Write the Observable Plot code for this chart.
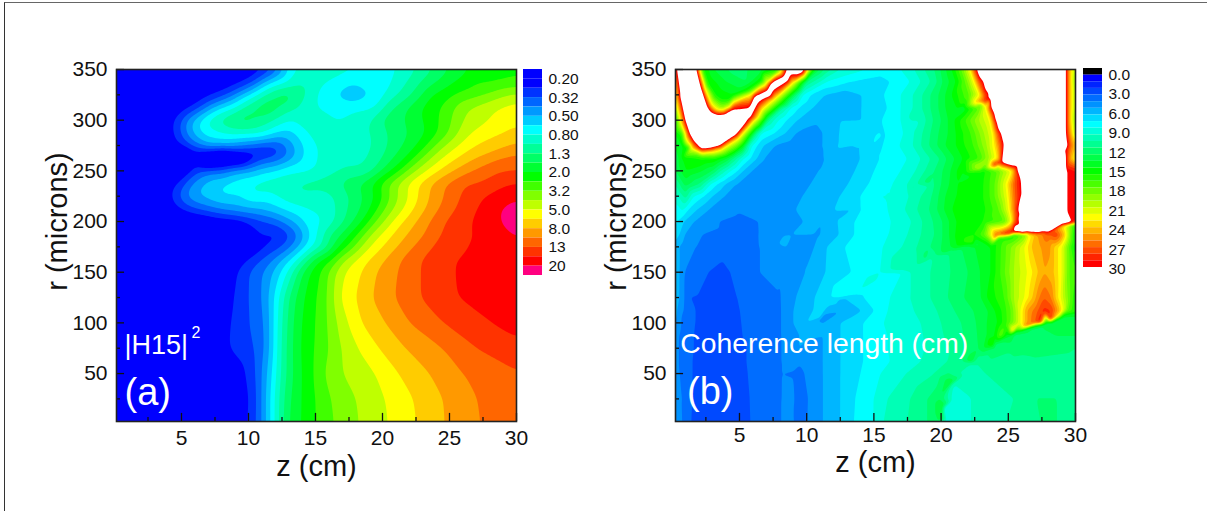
<!DOCTYPE html>
<html><head><meta charset="utf-8">
<script src="https://cdn.jsdelivr.net/npm/d3@7"></script>
<script src="https://cdn.jsdelivr.net/npm/@observablehq/plot@0.6"></script>
<style>
html,body{margin:0;background:#fff}
#page{position:relative;width:1207px;height:511px;overflow:hidden;font-family:"Liberation Sans",Arial,sans-serif}
#page svg{position:absolute;background:transparent;overflow:visible}
#edge{position:absolute;left:4px;top:2px;right:-5px;bottom:-5px;border-left:1px solid #333;border-top:1px solid #666}
</style></head><body><div id="page"><div id="edge"></div></div>
<script>
// Panel (a): |H15|^2, as steps above the 0.20 level of the colour key
const rowsA=[350,337,325,312,300,287,275,268,262,256,250,237,225,212,200,187,175,162,150,125,100,75,50,25,3];
const h15A=[
[0.15,-1,11,.5,11.6,1,12.4,3,12.9,5,13.6,6,16,6.7,18.6,6,20,5.5,21.1,6,22.6,7,23.8,8,25,9,26.5,10,30,10.7],
[0.15,-1,9.3,.5,9.8,1,10.3,2,10.7,3,11.1,4,11.6,5,12.9,6,13.5,7,14.7,7,15.5,6,17.8,5,20.7,6,21.8,7,22.8,8,24,9,25.3,10,28.3,11,30,11.3],
[0.15,-1,7,.5,7.7,1,8.3,2,8.9,3,9.4,4,9.9,5,10.6,6,11.1,7,11.9,8,12.7,9,13.5,8,14.4,7,15,6,16.3,5,17.8,4.2,19.3,5,20.1,6,21.2,7,22.2,8,23,9,23.6,10,25.3,11,27.8,12,29.3,13,30,13.3],
[0.15,-1,5.4,.5,5.9,1,6.3,2,6.8,3,7.3,4,7.9,5,8.9,6,9.5,7,10.3,8,11.5,9,12.4,8,13.5,7,14.9,6,15.4,5.9,17,5.6,18.5,5.7,19.6,6,20.1,7,20.7,8,21.8,9,22.8,10,24.3,11,25.3,12,26.3,13,28.3,14,30,14.5],
[0.15,-1,4,.5,4.55,1,4.9,2,5.25,3,5.7,4,6.2,5,6.8,6,7.4,7,8.5,8.1,9.5,8.8,10.5,8,11.9,7,15,6.5,19.2,7,19.7,8,21.6,9,23,10,24.2,11,25.2,12,26,13,28,14,30,14.7],
[0.15,-1,4.1,.5,4.55,1,4.9,2,5.3,3,5.8,4,6.3,5,7.9,6,9,6.4,11,6.3,11.4,6,11.9,5,12.7,4.6,13.5,5,14.3,6,15.4,6.5,19.5,7,20.3,8,22,9,23.3,10,24.2,11,25,12,25.6,13,26.6,14,29,15,30,15.4],
[0.15,-1,4.6,.5,5.05,1,5.55,2,6.4,3,7,4,8,4,9,3.5,10,2.8,11,2,11.6,1.9,12.3,2,12.8,3,13.4,4,14.1,5,15,6,17,6.7,19.6,7,20.3,8,21.6,9,22.6,10,23.3,11,24,12,24.6,13,25.6,14,27,15,29.6,16,30,16.2],
[0.15,-1,5,-1.5,5.9,.5,7,1.1,9,1,10.5,.6,11,.2,11.4,.5,12,1.2,12.4,2,13,3,13.5,4,14.1,5,15,6,17,6.6,19.4,7,20.1,8,21.2,9,22.1,10,22.8,11,23.4,12,24,13,25,14,26.2,15,28.2,16,30,16.8],
[0.15,-1,5,-2,7,-3.5,8,-4.5,9,-3.5,10,-1,10.5,1,12.1,2,12.9,3,13.5,4,14.1,5,14.9,6,17,6.6,19.2,7,19.9,8,20.8,9,21.7,10,22.3,11,22.9,12,23.5,13,24.4,14,25.5,15,26.9,16,28.5,17,30,17.4],
[0.15,-1,5,-2,7,-1,7.9,.8,8.9,2,10.6,3,12.1,4,12.9,5,14.9,6,17,6.7,18.8,7,19.6,8,20.4,9,21.2,10,21.8,11,22.3,12,23,13,23.9,14,24.8,15,26.1,16,27.5,17,30,17.7],
[0.15,-1,5.3,.5,5.8,1,6.4,2,7.2,3,9.6,4,11.6,5,14.9,6,18.4,7,19.4,8,20,9,20.7,10,21.3,11,21.8,12,22.5,13,23.3,14,24.2,15,25.3,16,26.6,17,30,18],
[0.15,-1,4.2,.5,4.7,1,5.2,2,5.7,3,6.4,4,7.8,5,9.8,6,12,6.8,13,7,15,7.5,16.7,8,18.1,9,19.1,10,19.7,11,20.3,12,21,13,21.7,14,22.6,15,23.5,16,24.6,17,26.1,18,29.3,19,30,19.2],
[0.15,-1,3.9,.5,4.3,1,4.7,2,5.2,3,6,4,7.7,5,10.3,6,13,6.7,15.4,6.4,16.4,7,17.6,8,18.6,9,19.5,10,20.1,11,20.6,12,21.2,13,22,14,22.7,15,23.5,16,24.6,17,25.8,18,27.6,19,30,19.5],
[0.15,-1,4.6,.5,5,1,6.2,2,7.7,3,9,3.6,10.6,4,12.4,5,14.4,6,15,6.2,15.6,6,16.5,7,17.4,8,18.4,9,19.1,10,19.6,11,20.2,12,20.8,13,21.6,14,22.3,15,23.2,16,24.2,17,25.4,18,27,19,28.9,20,30,21],
[0.15,-1,5,-1,7.5,-.1,9.4,.5,9.9,1,11.6,2,12.5,3,13.3,4,14,5,14.9,5.7,15.7,6,16.5,7,17.2,8,17.9,9,18.5,10,19,11,19.5,12,20.1,13,20.7,14,21.5,15,22.5,16,23.5,17,24.6,18,26.6,19,28.9,20,30,21],
[0.15,-1,5,-2,9,-1.5,12,.5,12.5,1,13.3,2,13.8,3,14.2,4,14.6,5,15.1,6,15.5,7,16,8,16.9,9,17.5,10,18.1,11,18.6,12,19.1,13,19.8,14,20.7,15,21.8,16,23.1,17,24.3,18,27,19,30,20],
[0.15,-1,5,-2,9,-1,10.9,.5,11.4,1,12.6,2,13.2,3,13.8,4,14.3,5,14.9,6,15.6,7,16,8,16.4,9,16.7,10,17.4,11,17.9,12,18.4,13,19,14,20,15,21.1,16,22.3,17,23.7,18,26.3,19,30,19.8],
[0.15,-1,5,-1,8,-.5,9.4,.5,9.9,1,10.9,2,11.8,3,12.4,4,13.1,5,13.6,6,14,7,14.4,8,14.8,9,15.1,10,16.1,11,16.6,12,17.1,13,17.9,14,18.9,15,20.1,16,21.3,17,22.8,18,25.1,19,30,19.8],
[0.15,-1,8.7,.5,9.15,1,10,2,11.1,3,11.8,4,12.4,5,12.9,6,13.3,7,13.6,8,14,9,14.5,10,15.4,11,15.9,12,16.5,13,17.1,14,18.4,15,19.5,16,21.1,17,22.8,18,25.3,19,30,19.8],
[0.15,-1,8.4,.5,8.9,1,10,2,11.1,3,11.5,4,11.9,5,12.3,6,12.6,7,13,8,13.5,9,14.1,10,15.1,11,15.9,12,16.4,13,16.7,14,18,15,19.2,16,20.9,17,22.8,18,25.5,19,30,19.6],
[0.15,-1,8.1,.5,8.65,1,10.1,2,11.3,3,11.6,4,11.9,5,12.1,6,12.5,7,12.9,8,13.3,9,13.9,10,15,11,15.9,12,16.6,13,17.4,14,18.4,15,20.2,16,22,17,24.5,18,28,19,30,19.4],
[0.15,-1,8,.5,8.5,1,10.5,2,11.3,3,11.6,4,11.9,5,12.1,6,12.4,7,12.8,8,13.3,9,13.8,10,14.9,11,16,12,16.9,13,18.2,14,19.7,15,21.7,16,24.5,17,27,18,30,18.7],
[0.15,-1,9.4,.5,9.8,1,10.6,2,11,3,11.4,4,11.8,5,12,6,12.4,7,12.8,8,13.3,9,13.9,10,14.9,11,15.6,12,17,13,19.5,14,21.2,15,23.5,16,26,17,30,17.9],
[0.15,-1,9.7,.5,10.1,1,10.65,2,11,3,11.3,4,11.6,5,11.95,6,12.3,7,12.6,8,13.1,9,13.9,10,15,11,16.1,12,18,13,20.2,14,22.3,15,24.5,16,27,17,30,17.7],
[0.15,-1,9.6,.5,10,1,10.65,2,11,3,11.3,4,11.64,5,11.94,6,12.25,7,12.6,8,12.9,9,13.9,10,15,11,16.3,12,18.2,13,20.4,14,22.5,15,24.6,16,27.2,17,30,17.5]
];
// Panel (b): coherence length in cm; 34 stands for values above the top of the key (white)
const rowsB=[350,338,325,312,300,287,275,262,250,237,225,212,200,187,175,150,125,112,100,87,75,62,50,25,3];
const cohB=[
[.24,26,3.1,14,4.6,12.5,6.6,13.5,10.8,13.5,11.3,12,12.5,10,15.5,8.5,17,9,18,10,19.5,12,20.8,15,21.5,18,22.1,22,22.45,27,29.6,24,30,20],
[.24,25,4,14,5.5,13,10,12,11.5,9,13.3,8,15.5,7.6,16.2,8,17.7,9,18.5,10,19.2,11,19.7,12,20.1,13,20.6,14,21.1,15,21.8,18,22.4,22,22.8,27,29.6,24,30,19],
[.24,23,4.5,15,9.2,12,9.7,9,10.3,8,11.3,7,12.6,6.5,14.1,7,15.75,8,17,9,17.9,10,18.6,11,19.2,12,19.8,13,20.3,14,20.8,15,22.1,18,22.8,22,23.2,27,29.6,24,30,20],
[.24,20,3.7,20,8.2,11,8.8,9,9.4,8,10.4,7,12,6.5,14.1,7,16,8,17,9,17.9,10,18.6,11,19.2,12,19.8,13,20.3,14,21.2,15,22.8,18,23.3,22,23.6,27,29.6,24,30,20],
[.24,16,7.2,11,7.9,9,8.5,8,9.3,7,11,6.2,14.1,7,15.6,8,17,9,17.9,10,18.6,10.5,19.4,12,20,13,20.5,14,21,15,21.8,17,22.8,20,23.6,22,23.9,27,29.6,24,30,19],
[.24,15,6.3,11,6.6,9,7.6,8,8.4,7,9.2,6,10,5.5,11.2,6,14,7,15.4,8,17.2,9,18,10,18.6,11,19.2,12,19.8,13,20.5,14,21.1,15,22.2,17,23.2,20,23.8,22,24.2,27,29.7,24,30,20],
[.24,14,.8,15,5.5,12,5.8,9.5,6.3,8,6.8,7,7.6,6,9,5.4,11.2,6,13.4,7,14.8,8,16.9,9,17.9,10,18.5,11,19.1,12,19.7,13,20.3,14,21.1,15,22.4,17,23.4,20,24,23,24.4,27,29.7,26,30,24],
[.24,13,.7,15,2.2,15.8,3.2,15.8,4,14,4.5,12,5.3,9,5.8,8,6.3,7,6.8,6,8,5.5,11.2,6,14,7,15.4,8,17.5,9,18.5,10,19.2,11,19.9,12,20.4,13,21,14,21.6,15,22.8,17,23.6,20,24.2,23,24.4,27,29.6,25,30,22],
[.24,13,1,15,3,13,3.6,11,4.35,9,4.85,8,5.3,7,5.8,6,9,5.5,10.9,6,13.6,7,15,8,17,9,18.1,10,18.8,11,19.5,12,20.1,13,20.7,14,21.2,15,23,16,24.2,18,25.2,22,25.55,27,30,29],
[.24,11,1,13.5,2,12,2.85,9,3.35,8,3.95,7,4.7,6,8,5.5,10.3,6,13.1,7,14.6,8,16.4,9,17.5,10,18.2,11,19.2,11.8,19.5,12,20,13,20.6,14,21.2,15,23.2,16,24,18,24.8,22,25.45,27,30,29],
[.24,9.5,1,11.5,1.6,9,2.35,8,3,7,3.85,6,8,5.5,9.7,6,12.5,7,14,8,15.2,9,16.5,9,17.6,10,18.5,11,19.3,12,19.8,13,20.3,14,21.1,15,23.2,16,24,18,24.9,22,25.5,27,30,29],
[.24,8.5,.8,9.2,1.2,8,1.86,7,2.7,6,8,5.5,9.2,6,12.1,7,14,8,16,9,17.3,10,18.2,11,19.1,12,19.7,13,20.2,14,20.8,15,21.4,15.5,23.4,16,24.3,18,25,22,25.5,27,30,29],
[.24,8.5,.37,8,.87,7,1.6,6,3,5.4,3.5,5,5,4.7,6.4,5,8,5.5,9.8,6,12.3,7,13.3,8,16.5,9,17.8,10,18.6,11,19.4,12,20.1,13,20.6,14,21.1,15,23.2,16,24.7,18,25.2,22,25.5,27,30,29],
[.24,7.5,.55,7,.9,6,2.2,5,4,4.6,6.45,5,8.9,6,12.4,7,13.5,8,16.1,9,17.5,10,18.5,11,19.5,12,20.1,13,20.6,14,21,15,22.5,16,23.2,18,23.7,22,24.2,27,25.4,15.5,26,18,26.5,22,27.2,25,27.9,27,28.6,28,29.2,24,29.5,20,30,15],
[.24,7,.5,6,.9,5.5,1.75,5,4,4.5,6.5,5,8.55,6,11.5,7,12.8,8,15.7,9,17.1,10,18.2,11,19.2,12,20,13,20.7,14,21.2,15,22.5,14,23.7,15,25.2,19,26.2,22,26.7,24,27.4,25,28,25.5,28.4,24,29,22,29.5,18,30,15],
[.24,7.5,.5,6,.9,5,2.7,4,3.5,3.6,4.3,4,6.5,5,7.9,5.4,8,4.7,8.06,5,9.9,6,11.4,7,13.3,8,15.5,9,17.1,9,17.7,10,19.2,11,20.7,12,22,13,22.9,14,23.7,15,24.4,17,25.4,20,26.4,22,27.2,24,27.7,25,28.4,24,29,22,29.5,18,30,17],
[.24,7,.5,6,.9,5,1.3,4,2,3.9,3.4,3.3,4.8,4,8,4.9,8.06,5,9.2,6,10.6,7,11.8,8,14.2,8,16.2,9,17.7,10,19.2,11,20.5,12,21.7,13,23,14,23.4,15,24.7,17,25.4,20,26.2,22,26.8,24,27.3,26,27.7,27,28.2,26,28.5,24,28.9,22,29.6,18,30,16],
[.24,6.5,.5,5.5,.9,4.9,1.7,4,3.4,3.2,5,4,8,4.8,8.06,5,9,6,10.5,7,12.6,6,14.1,7,15,8,16,9,18,10,19.7,11,21,12,22.4,13,23.5,14,24.5,16,25.2,18,25.9,22,26.4,25,27.2,27,27.7,28.5,28.2,28,28.7,25,29.1,22,29.4,18,30,16],
[.24,6,.5,5.5,.8,4.6,1.7,4,3.4,3.1,5.1,4,8,4.8,8.06,5,9,6,10,7,11.2,6,12.5,7,14.2,8,15.7,9,18.5,10,20,11,21.5,12,22.6,13,23.4,14,24.2,15,24.9,17,25.4,19,25.9,22,26.4,25,27,27,27.9,13.5,30,14],
[.24,5.5,.8,4.5,1.6,4,3.4,3,5.2,4,8,4.8,8.06,5,9.5,6,10,7,11.2,6,12.5,7,14.2,8,16,9,18.7,10,20.2,11,21.7,12,22.7,13,23.4,14,24,15,24.4,18,25,14,26.7,13,27.4,12.5,28.6,13,30,13],
[.24,5.5,.75,4.5,1.6,4,3.4,3,5.5,4,8,4.8,8.06,5,9.5,6,11.2,6,12.5,7,14.2,8,16,9,19,10,20.7,11,22,12,22.8,13,23.2,14,24,12.8,25.4,12.2,27,12.5,30,12],
[.24,5.5,.75,4.5,1.5,4,3.4,3,5.5,4,8,4.8,8.06,5,9,5.6,9.5,5.1,11.2,6,12.5,7,14.2,8,16.2,9,18.5,10,20.5,11,21.6,12,22.8,11,27,11.8,30,11.5],
[.24,5.8,.75,4.5,1.5,4,3.4,3,5.6,4,8,4.8,8.06,5,9.65,4.8,9.8,5,11.2,6,12.5,7,14,8,15.5,9,17.4,10,19.5,11,20.5,12,22,10.2,23.3,11,30,11.3],
[.24,6,.7,5,1.45,4,3.5,3,5.75,4,8.05,4.9,8.06,5,9,5.3,9.1,4.8,10,4.9,10.1,5,11.2,6,12.5,7,13.6,8,15,9,16,10,17.7,11,19,12,19.9,13,21,9.2,22.2,10,25.4,11,27.1,12,28.6,12,30,11.4],
[.24,5.6,.75,5,1.37,4,3.6,3,5.8,4,8.05,4.9,8.06,5,8.92,5.5,8.94,4.9,10,4.9,10.05,5,11.2,6,12.5,7,13.5,8,15,9,15.7,10,17.5,11,19,12,19.8,13,20.5,9.1,22.2,10,24.9,11,27.4,12,28,12.4,28.6,12,30,11.5]
];
// Panel (b): level lines traced around the white regions: [value, z, r, z, r, ...]
const isoB=[
[30,.37,350,.5,338,.62,326,.8,312,.99,300,1.3,287,1.6,280,2.2,272,2.85,273,3.35,275,4.6,285,5.8,303,7.3,324,8.6,339,9.8,350],
[34,.5,350,.62,338,.75,326,.93,312,1.12,301,1.45,289,1.75,282,2.25,274,2.85,275,3.4,277,4.55,287,5.7,305,7.15,326,8.45,341,9.65,350],
[22,.24,320,.6,298,.95,283,1.4,272,2.2,267,3,268,3.6,270,4.9,281,6.1,299,7.6,320,8.95,336,10.15,350],
[16,.24,300,.7,285,1.2,272,2.2,261,3.2,262,4,265,5.3,277,6.5,295,8,316,9.3,332,10.5,350],
[30,1.8,350,2.1,333,2.6,313,2.85,308,3.35,305,3.85,305.3,4.45,310,6.1,323,7.3,335,8.55,350],
[34,1.65,350,1.97,333,2.45,311,2.75,305,3.35,302.5,3.95,303,4.55,307.5,6.2,321,7.45,334.5,8.7,349.9],
[22,2.05,350,2.4,333,2.95,316,3.35,311,3.85,311,4.3,313.5,5.9,326,7,337,8.1,350],
[16,2.3,350,2.65,335,3.2,324,3.6,320,4.2,320,5.6,329,6.7,339,7.8,350],
[30,22.7,350,23.2,338,23.6,326,23.7,316,24,306,24.2,296.4,24.5,287,24.7,276.7,24.55,258.6,25.7,253.6,26,240,26.05,227.3,25.9,207.6,25.4,189.5,29.27,197.7,29.27,212,29.27,227,29.27,240,29.27,250,29.27,262,28.8,266.8,29.27,271,29.27,287,29.27,300,29.27,312,29.27,325,29.27,338,29.27,350],
[34,22.85,350,23.35,338,23.75,326,23.85,316,24.15,306,24.35,296,24.65,287,24.85,277,24.75,260,25.85,252,26.15,240,26.2,227,26.05,208,25.55,192,26.3,192,27.7,193.5,29.05,200,29.12,212,29.12,227,29.12,240,29.12,250,29.12,262,29.12,275,29.12,287,29.12,300,29.12,312,29.12,325,29.12,338,29.12,350,26,350,26,325,26,300,27,275,27.5,250,27.5,225,27.5,205]
];
// Panel (b): jumps traced along the sharp ridges: z, r, value above the ridge, value below it
const ridgeB=[
[20.1,3.7,13.8,9],[20.2,17,14,9],[20.8,40,14,10],[22.2,61,14,11],[23.9,79,17,12.5],[25.4,91,24,13],[26.5,96,27,13],[27.4,99,29,13],[28.2,102,28,13.5],[28.9,106,22,13.5],[30,109,16,14],
[9,53,5.2,4.9],[9.8,80,6.8,5.1],[11,105,7.9,5.5],[12.5,125,8.8,6.8],[14,130,9,8],[15.2,142,9.5,8.3],[17,153,11,9.3],[19,164,12.5,10.8],[20.5,170,14,12],[21.45,175,15.5,13],[22.45,180,17,13.5],[24.2,184.7,28,16],[25.2,187,30,16],[26.2,188.6,34,19],[27.5,190.5,34,27],[28.5,194,34,26],[29.15,197,30,22],[30,198,29,16],
[8.5,176,6.3,5.8],[10.5,188,6.6,5.7],[11,201,6.9,6],[13,212.6,7.9,6.8],[14.9,217.5,9,8],[18,232,11.5,10],[19,237,12.5,11],[21.5,247,16,14.5],[23,252,21,15.5],[24.1,255,29,18],
[10.8,265,6,5],[11.8,265,6.6,6.1],[13.3,280,7.7,6.8],[14.3,280,7.9,7],[15.5,285,8.5,7.8],[18,300,10.5,9.5],[21.5,313,16,14],[22.7,316,24,17],[23.45,318,29,22]
];
const keyLabelsA=["0.20","0.32","0.50","0.80","1.3","2.0","3.2","5.0","8.0","13","20"];
const keyLabelsB=["0.0","3.0","6.0","9.0","12","15","18","21","24","27","30"];
const zMajor=[5,10,15,20,25,30], zMinor=[2.5,7.5,12.5,17.5,22.5,27.5];
const rMajor=[50,100,150,200,250,300,350], rMinor=[25,75,125,175,225,275,325];
const coloursA=["#0000ff","#0000ff","#0033ff","#0066ff","#0099ff","#00ccff","#00ffff","#00ffcc","#00ff99","#00ff66","#00ff33","#00ff00","#40ff00","#80ff00","#bfff00","#ffff00","#ffcc00","#ff9900","#ff6600","#ff3300","#ff0000","#ff0080"];
const coloursB=["#000000","#0000ff","#0024ff","#0049ff","#006dff","#0092ff","#00b6ff","#00dbff","#00ffff","#00ffdb","#00ffb6","#00ff92","#00ff6d","#00ff49","#00ff24","#00ff00","#24ff00","#49ff00","#6dff00","#92ff00","#b6ff00","#dbff00","#ffff00","#ffdb00","#ffb600","#ff9200","#ff6d00","#ff4900","#ff2400","#ff0000"];

const font='"Liberation Sans",Arial,sans-serif';
const page=document.getElementById("page");
function samples(rs,rows){
  const out=[];
  rs.forEach((r,i)=>{const k=rows[i];for(let j=0;j<k.length;j+=2)out.push({z:k[j],r,v:k[j+1]});});
  return out;
}
function isoSamples(lines){
  const out=[];
  for(const l of lines)for(let j=1;j<l.length;j+=2)out.push({z:l[j],r:l[j+1],v:l[0]});
  return out;
}
function ridgeSamples(list){
  const out=[];
  for(const [z,r,hi,lo] of list){
    out.push({z:Math.max(.24,z-.08),r:Math.min(350,r+1.2),v:hi});
    out.push({z:Math.min(30,z+.08),r:Math.max(2.7,r-1.2),v:lo});
  }
  return out;
}
function panel({left,zMin,rMin,data,thresholds,range,blur,notes,labelDy,tickPad,bg}){
  return Plot.plot({
    width:400+left+70,height:490,
    marginLeft:left,marginRight:70,marginTop:69,marginBottom:69,
    style:{fontFamily:font,color:"#111",background:"transparent",overflow:"visible"},
    x:{domain:[zMin,30],axis:null},
    y:{domain:[rMin,350],axis:null},
    color:{type:"threshold",domain:thresholds,range},
    marks:[
      Plot.frame({fill:bg,stroke:"none"}),
      Plot.contour(data,{x:"z",y:"r",fill:"v",interpolate:"barycentric",pixelSize:1,blur,thresholds,stroke:"none"}),
      Plot.ruleX(zMajor,{y1:rMin,y2:rMin+8,stroke:"#111",strokeWidth:1.3}),
      Plot.ruleX(zMinor,{y1:rMin,y2:rMin+4,stroke:"#111",strokeWidth:1.3}),
      Plot.ruleY(rMajor,{x1:zMin,x2:zMin+0.6,stroke:"#111",strokeWidth:1.3}),
      Plot.ruleY(rMinor,{x1:zMin,x2:zMin+0.3,stroke:"#111",strokeWidth:1.3}),
      Plot.frame({stroke:"#222",strokeWidth:1.6}),
      Plot.axisX(zMajor,{anchor:"bottom",tickSize:0,tickPadding:tickPad,fontSize:21,label:null,tickFormat:d=>String(d)}),
      Plot.axisY(rMajor,{anchor:"left",tickSize:0,tickPadding:9,fontSize:21,label:null,tickFormat:d=>String(d)}),
      Plot.text(["z (cm)"],{frameAnchor:"bottom",dy:labelDy,fontSize:29,lineAnchor:"middle"}),
      Plot.text(["r (microns)"],{frameAnchor:"left",dx:-59,dy:-24,rotate:-90,textAnchor:"middle",fontSize:29,lineAnchor:"middle"}),
      ...notes.map(n=>Plot.text([n.text],{x:()=>n.z,y:()=>n.r,fontSize:n.size,fill:"#fff",textAnchor:"start",lineAnchor:"middle"}))
    ]
  });
}
function key({top,n,colours,labels,labelAt,barH}){
  const bands=colours.map((c,i)=>({lo:i,hi:i+1,c}));
  const tagged=labels.map((t,i)=>({t,at:labelAt(i)}));
  return Plot.plot({
    width:90,height:top+barH+30,
    marginLeft:0,marginRight:71,marginTop:top,marginBottom:30,
    style:{fontFamily:font,color:"#111",background:"transparent",overflow:"visible"},
    x:{domain:[0,1],axis:null},
    y:{domain:[0,n],reverse:true,axis:null},
    color:{type:"identity"},
    marks:[
      Plot.rect(bands,{x1:()=>0,x2:()=>1,y1:"lo",y2:"hi",fill:"c"}),
      Plot.text(tagged,{x:()=>1,y:"at",text:"t",dx:6,fontSize:15.5,textAnchor:"start",lineAnchor:"middle"})
    ]
  });
}
function place(el,x,y){el.style.left=x+"px";el.style.top=y+"px";page.appendChild(el);}

place(panel({left:116,zMin:0.15,rMin:2.7,data:samples(rowsA,h15A),
  thresholds:d3.range(0,21),range:coloursA,blur:5,labelDy:45,tickPad:9,bg:"#0000ff",
  notes:[{text:"|H15|",z:.75,r:78,size:27},{text:"2",z:5.75,r:90,size:16},{text:"(a)",z:.75,r:31,size:38}]}),0,0);
place(panel({left:116,zMin:0.24,rMin:2.7,data:[...samples(rowsB,cohB),...isoSamples(isoB),...ridgeSamples(ridgeB)],
  thresholds:d3.range(1,31),range:[...coloursB,"#ffffff"],blur:1,labelDy:41,tickPad:6,bg:"#ffffff",
  notes:[{text:"Coherence length (cm)",z:.6,r:79,size:28.3},{text:"(b)",z:1.1,r:32,size:38}]}),559,0);
place(key({top:69,n:22,colours:coloursA,labels:keyLabelsA,labelAt:i=>2*i+1,barH:206}),523,0);
place(key({top:68,n:30,colours:coloursB,labels:keyLabelsB,labelAt:i=>.95+2.93*i,barH:199}),1083,0);
</script></body></html>
